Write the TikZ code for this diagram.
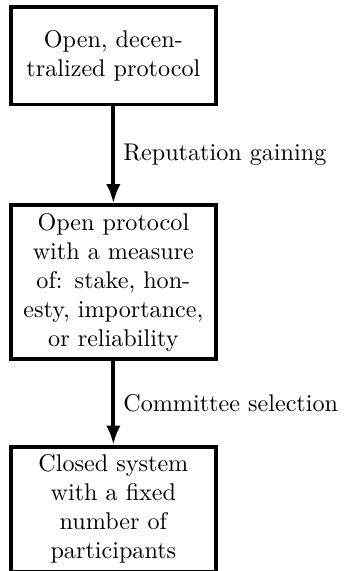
\documentclass[tikz,border=0pt]{standalone}
\usetikzlibrary{arrows.meta}
\begin{document}
\begin{tikzpicture}[stagebox/.style={draw=black, ultra thick, text width=2.75cm, align=center, minimum height=1.42cm},
  flowarrow/.style={ultra thick, -{Latex[length=8pt,width=6pt]}}]
\useasboundingbox (-1.65,0.81) rectangle (3.35,-7.5);
\node [stagebox] (open) at (0,0) {Open, decentralized protocol};
\node [stagebox] (measure) at (0,-3.3) {Open protocol with a measure of: stake, honesty, importance, or reliability};
\node [stagebox] (closed) at (0,-6.6) {Closed system with a fixed number of participants};
\draw [flowarrow] (open) -- node [right] {Reputation gaining} (measure);
\draw [flowarrow] (measure) -- node [right] {Committee selection} (closed);
\end{tikzpicture}
\end{document}
